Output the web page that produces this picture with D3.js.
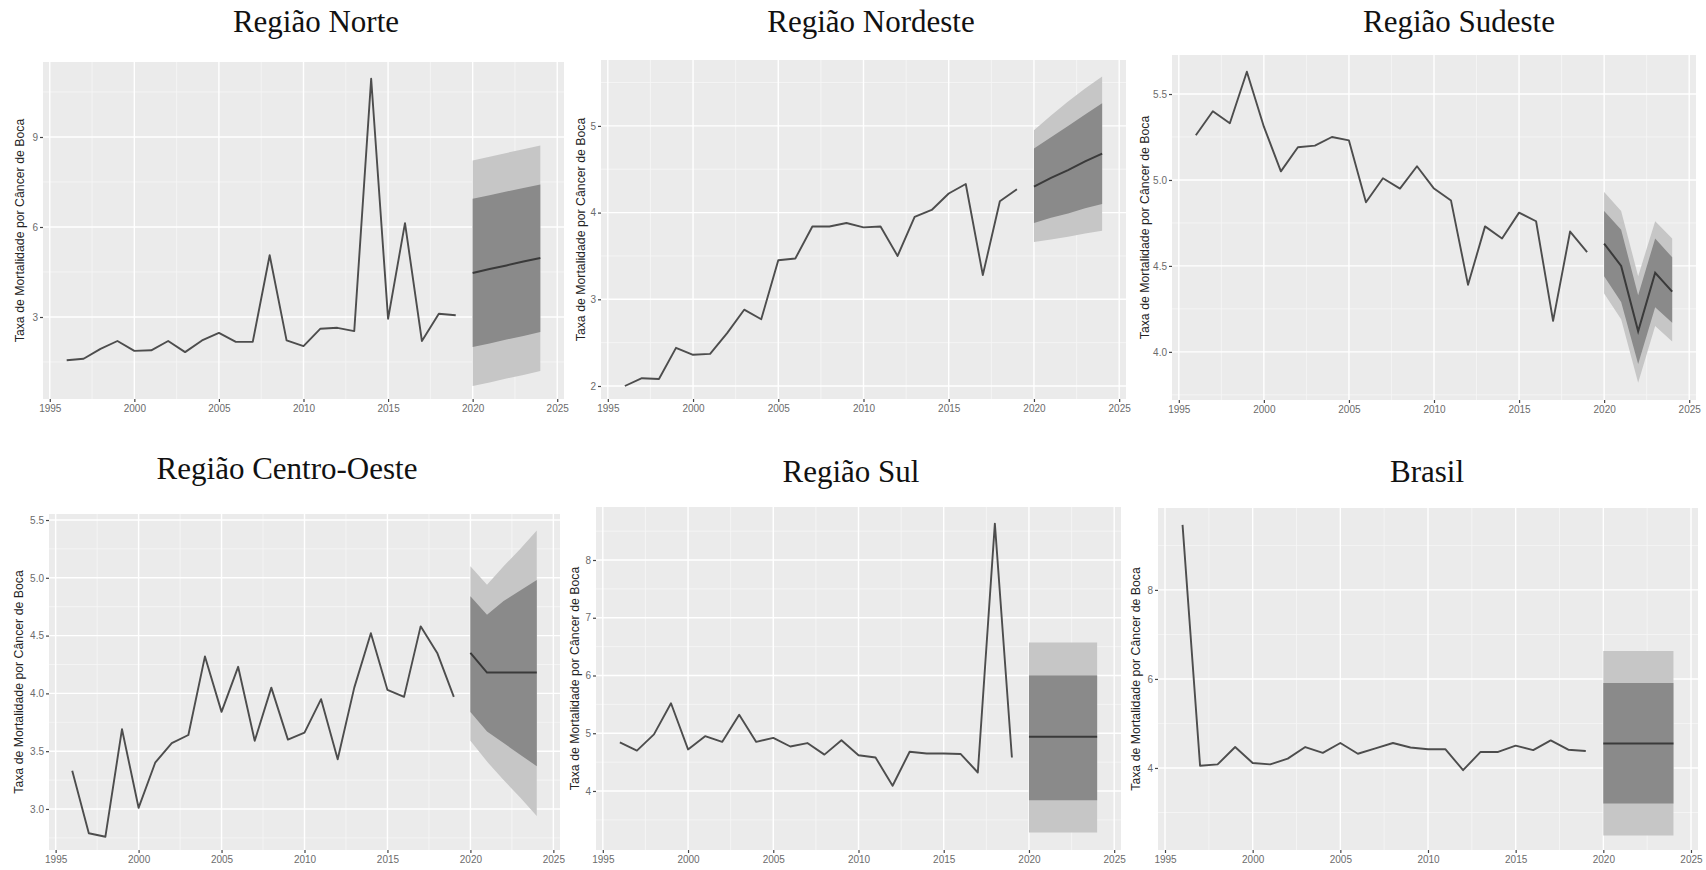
<!DOCTYPE html>
<html>
<head>
<meta charset="utf-8">
<script src="https://d3js.org/d3.v7.min.js"></script>
<style>
  body { margin: 0; background: #ffffff; }
  svg { display: block; }
</style>
</head>
<body>
<svg id="chart" width="1706" height="870"></svg>
<script>
"use strict";

// anos observados e anos da previsão
var years = [1996, 1997, 1998, 1999, 2000, 2001, 2002, 2003, 2004, 2005, 2006, 2007,
             2008, 2009, 2010, 2011, 2012, 2013, 2014, 2015, 2016, 2017, 2018, 2019];
var fcYears = [2020, 2021, 2022, 2023, 2024];
var xTicks = [1995, 2000, 2005, 2010, 2015, 2020, 2025];

// Região Norte
var norteRate = [1.56, 1.61, 1.94, 2.2, 1.87, 1.89, 2.2, 1.83, 2.22, 2.47, 2.17, 2.17,
                 5.06, 2.22, 2.03, 2.61, 2.64, 2.53, 10.94, 2.94, 6.13, 2.2, 3.11, 3.06];
var norteMean = [4.47, 4.6, 4.72, 4.85, 4.97];
var norteLo80 = [2.0, 2.12, 2.25, 2.37, 2.5];
var norteHi80 = [6.94, 7.06, 7.18, 7.3, 7.42];
var norteLo95 = [0.7, 0.82, 0.95, 1.07, 1.2];
var norteHi95 = [8.22, 8.34, 8.47, 8.59, 8.72];
var norteTicks = [3, 6, 9];

// Região Nordeste
var nordesteRate = [2.0, 2.09, 2.08, 2.44, 2.36, 2.37, 2.61, 2.88, 2.77, 3.45, 3.47, 3.84,
                    3.84, 3.88, 3.83, 3.84, 3.5, 3.95, 4.03, 4.22, 4.33, 3.28, 4.13, 4.27];
var nordesteMean = [4.3, 4.4, 4.49, 4.59, 4.68];
var nordesteLo80 = [3.88, 3.94, 3.99, 4.05, 4.1];
var nordesteHi80 = [4.74, 4.87, 5.0, 5.13, 5.26];
var nordesteLo95 = [3.66, 3.69, 3.72, 3.76, 3.79];
var nordesteHi95 = [4.95, 5.12, 5.28, 5.43, 5.57];
var nordesteTicks = [2, 3, 4, 5];

// Região Sudeste
var sudesteRate = [5.26, 5.4, 5.33, 5.63, 5.31, 5.05, 5.19, 5.2, 5.25, 5.23, 4.87, 5.01,
                   4.95, 5.08, 4.95, 4.88, 4.39, 4.73, 4.66, 4.81, 4.76, 4.18, 4.7, 4.58];
var sudesteMean = [4.63, 4.5, 4.12, 4.46, 4.35];
var sudesteLo80 = [4.44, 4.29, 3.93, 4.26, 4.17];
var sudesteHi80 = [4.82, 4.71, 4.33, 4.66, 4.55];
var sudesteLo95 = [4.34, 4.19, 3.82, 4.15, 4.06];
var sudesteHi95 = [4.93, 4.82, 4.44, 4.76, 4.66];
var sudesteTicks = [4.0, 4.5, 5.0, 5.5];

// Região Centro-Oeste
var coRate = [3.33, 2.79, 2.76, 3.69, 3.01, 3.4, 3.57, 3.64, 4.32, 3.84, 4.23, 3.59,
              4.05, 3.6, 3.66, 3.95, 3.43, 4.05, 4.52, 4.03, 3.97, 4.58, 4.35, 3.97];
var coMean = [4.35, 4.18, 4.18, 4.18, 4.18];
var coLo80 = [3.84, 3.67, 3.57, 3.47, 3.37];
var coHi80 = [4.84, 4.68, 4.8, 4.89, 4.98];
var coLo95 = [3.59, 3.41, 3.25, 3.1, 2.94];
var coHi95 = [5.1, 4.94, 5.1, 5.25, 5.41];
var coTicks = [3.0, 3.5, 4.0, 4.5, 5.0, 5.5];

// Região Sul
var sulRate = [4.84, 4.7, 4.98, 5.52, 4.72, 4.95, 4.85, 5.32, 4.85, 4.92, 4.77, 4.83,
               4.63, 4.88, 4.62, 4.58, 4.09, 4.68, 4.65, 4.65, 4.64, 4.32, 8.63, 4.58];
var sulMean = [4.94, 4.94, 4.94, 4.94, 4.94];
var sulLo80 = [3.84, 3.84, 3.84, 3.84, 3.84];
var sulHi80 = [6.0, 6.0, 6.0, 6.0, 6.0];
var sulLo95 = [3.28, 3.28, 3.28, 3.28, 3.28];
var sulHi95 = [6.57, 6.57, 6.57, 6.57, 6.57];
var sulTicks = [4, 5, 6, 7, 8];

// Brasil
var brasilRate = [9.46, 4.05, 4.08, 4.47, 4.11, 4.08, 4.21, 4.47, 4.34, 4.56, 4.32, 4.44,
                  4.56, 4.46, 4.42, 4.42, 3.95, 4.36, 4.36, 4.5, 4.4, 4.62, 4.41, 4.38];
var brasilMean = [4.55, 4.55, 4.55, 4.55, 4.55];
var brasilLo80 = [3.2, 3.2, 3.2, 3.2, 3.2];
var brasilHi80 = [5.91, 5.91, 5.91, 5.91, 5.91];
var brasilLo95 = [2.48, 2.48, 2.48, 2.48, 2.48];
var brasilHi95 = [6.63, 6.63, 6.63, 6.63, 6.63];
var brasilTicks = [4, 6, 8];

var yTitle = "Taxa de Mortalidade por Câncer de Boca";

var panels = [
    { title: "Região Norte", rate: norteRate, mean: norteMean, lo80: norteLo80, hi80: norteHi80,
      lo95: norteLo95, hi95: norteHi95, ticks: norteTicks, fmt: "d",
      box: [43, 62, 564, 399], yDomain: [0.267, 11.5], titleX: 316, titleY: 32, labelX: 21 },
    { title: "Região Nordeste", rate: nordesteRate, mean: nordesteMean, lo80: nordesteLo80, hi80: nordesteHi80,
      lo95: nordesteLo95, hi95: nordesteHi95, ticks: nordesteTicks, fmt: "d",
      box: [601, 60, 1126, 399], yDomain: [1.85, 5.76], titleX: 871, titleY: 32, labelX: 582 },
    { title: "Região Sudeste", rate: sudesteRate, mean: sudesteMean, lo80: sudesteLo80, hi80: sudesteHi80,
      lo95: sudesteLo95, hi95: sudesteHi95, ticks: sudesteTicks, fmt: ".1f",
      box: [1172, 55, 1696, 400], yDomain: [3.72, 5.727], titleX: 1459, titleY: 32, labelX: 1146 },
    { title: "Região Centro-Oeste", rate: coRate, mean: coMean, lo80: coLo80, hi80: coHi80,
      lo95: coLo95, hi95: coHi95, ticks: coTicks, fmt: ".1f",
      box: [49, 514, 560, 850], yDomain: [2.645, 5.552], titleX: 287, titleY: 479, labelX: 20 },
    { title: "Região Sul", rate: sulRate, mean: sulMean, lo80: sulLo80, hi80: sulHi80,
      lo95: sulLo95, hi95: sulHi95, ticks: sulTicks, fmt: "d",
      box: [596, 507, 1121, 850], yDomain: [2.978, 8.918], titleX: 851, titleY: 482, labelX: 576 },
    { title: "Brasil", rate: brasilRate, mean: brasilMean, lo80: brasilLo80, hi80: brasilHi80,
      lo95: brasilLo95, hi95: brasilHi95, ticks: brasilTicks, fmt: "d",
      box: [1158, 508, 1698, 850], yDomain: [2.157, 9.84], titleX: 1427, titleY: 482, labelX: 1137 }
];

var svg = d3.select("#chart");

panels.forEach(function (p) {
    createPanel(svg, p);
});

function createPanel(svg, p) {
    var left = p.box[0], top = p.box[1], right = p.box[2], bottom = p.box[3];

    var x = d3.scaleLinear()
        .domain([1994.6, 2025.4])
        .range([left, right]);

    var y = d3.scaleLinear()
        .domain(p.yDomain)
        .range([bottom, top]);

    var g = svg.append("g");

    g.append("rect")
        .attr("x", left)
        .attr("y", top)
        .attr("width", right - left)
        .attr("height", bottom - top)
        .attr("fill", "#ebebeb");

    // linhas de grade menores (a meio caminho entre as principais)
    var step = p.ticks[1] - p.ticks[0];
    var yMinor = [];
    for (var v = p.ticks[0] - step / 2; v <= p.yDomain[1]; v += step) {
        if (v >= p.yDomain[0]) yMinor.push(v);
    }
    var xMinor = xTicks.slice(0, -1).map(function (d) { return d + 2.5; });

    g.selectAll("line.xminor")
        .data(xMinor)
        .enter()
        .append("line")
        .attr("x1", function (d) { return x(d); })
        .attr("x2", function (d) { return x(d); })
        .attr("y1", top)
        .attr("y2", bottom)
        .attr("stroke", "#f6f6f6")
        .attr("stroke-width", 0.8);

    g.selectAll("line.yminor")
        .data(yMinor)
        .enter()
        .append("line")
        .attr("x1", left)
        .attr("x2", right)
        .attr("y1", function (d) { return y(d); })
        .attr("y2", function (d) { return y(d); })
        .attr("stroke", "#f6f6f6")
        .attr("stroke-width", 0.8);

    g.selectAll("line.xmajor")
        .data(xTicks)
        .enter()
        .append("line")
        .attr("x1", function (d) { return x(d); })
        .attr("x2", function (d) { return x(d); })
        .attr("y1", top)
        .attr("y2", bottom)
        .attr("stroke", "#ffffff")
        .attr("stroke-width", 1.4);

    g.selectAll("line.ymajor")
        .data(p.ticks)
        .enter()
        .append("line")
        .attr("x1", left)
        .attr("x2", right)
        .attr("y1", function (d) { return y(d); })
        .attr("y2", function (d) { return y(d); })
        .attr("stroke", "#ffffff")
        .attr("stroke-width", 1.4);

    // faixas de previsão
    var fc = fcYears.map(function (yr, i) {
        return { year: yr, mean: p.mean[i], lo80: p.lo80[i], hi80: p.hi80[i], lo95: p.lo95[i], hi95: p.hi95[i] };
    });

    g.append("path")
        .datum(fc)
        .attr("fill", "#c6c6c6")
        .attr("d", d3.area()
            .x(function (d) { return x(d.year); })
            .y0(function (d) { return y(d.lo95); })
            .y1(function (d) { return y(d.hi95); }));

    g.append("path")
        .datum(fc)
        .attr("fill", "#8a8a8a")
        .attr("d", d3.area()
            .x(function (d) { return x(d.year); })
            .y0(function (d) { return y(d.lo80); })
            .y1(function (d) { return y(d.hi80); }));

    g.append("path")
        .datum(fc)
        .attr("fill", "none")
        .attr("stroke", "#3a3a3a")
        .attr("stroke-width", 2)
        .attr("d", d3.line()
            .x(function (d) { return x(d.year); })
            .y(function (d) { return y(d.mean); }));

    // série observada
    g.append("path")
        .datum(years.map(function (yr, i) { return [yr, p.rate[i]]; }))
        .attr("fill", "none")
        .attr("stroke", "#4d4d4d")
        .attr("stroke-width", 1.9)
        .attr("stroke-linejoin", "round")
        .attr("d", d3.line()
            .x(function (d) { return x(d[0]); })
            .y(function (d) { return y(d[1]); }));

    // eixos
    var xAxis = g.append("g")
        .attr("transform", "translate(0," + bottom + ")")
        .call(d3.axisBottom(x).tickValues(xTicks).tickFormat(d3.format("d")).tickSize(3).tickPadding(3));

    var yAxis = g.append("g")
        .attr("transform", "translate(" + left + ",0)")
        .call(d3.axisLeft(y).tickValues(p.ticks).tickFormat(d3.format(p.fmt)).tickSize(3).tickPadding(2));

    [xAxis, yAxis].forEach(function (a) {
        a.select(".domain").remove();
        a.selectAll(".tick line").attr("stroke", "#444").attr("stroke-width", 1.2);
        a.selectAll(".tick text")
            .attr("fill", "#6b6b6b")
            .attr("font-family", "Liberation Sans, Arial, sans-serif")
            .attr("font-size", "10px");
    });

    g.append("text")
        .text(yTitle)
        .attr("transform", "translate(" + p.labelX + "," + ((top + bottom) / 2) + ") rotate(-90)")
        .attr("text-anchor", "middle")
        .attr("dominant-baseline", "middle")
        .attr("font-family", "Liberation Sans, Arial, sans-serif")
        .attr("font-size", "12.3px")
        .attr("fill", "#222");

    svg.append("text")
        .text(p.title)
        .attr("x", p.titleX)
        .attr("y", p.titleY)
        .attr("text-anchor", "middle")
        .attr("font-family", "Liberation Serif, Times New Roman, serif")
        .attr("font-size", "31px")
        .attr("fill", "#111");
}
</script>
</body>
</html>
